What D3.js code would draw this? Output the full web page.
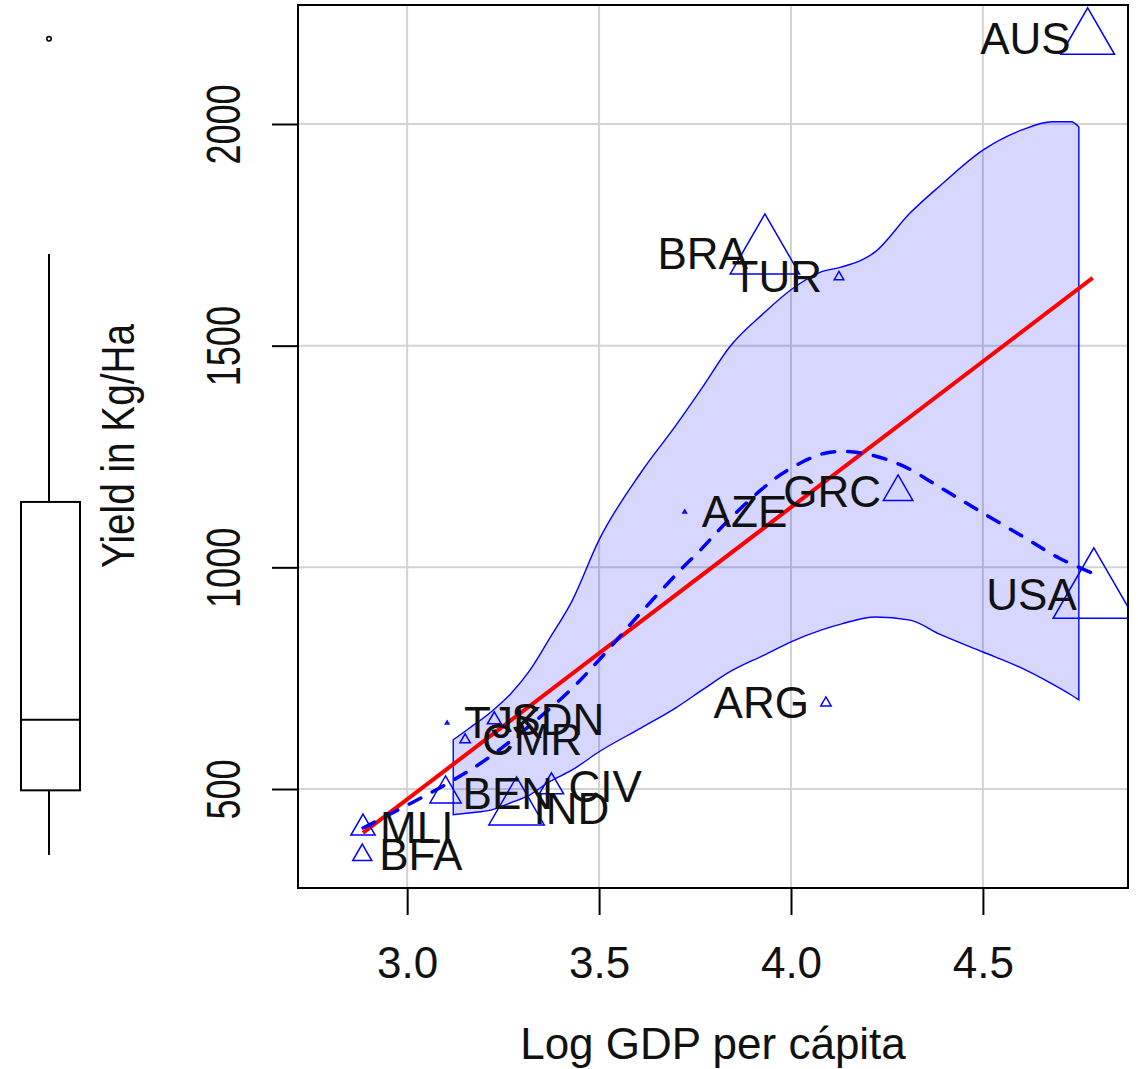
<!DOCTYPE html>
<html>
<head>
<meta charset="utf-8">
<script src="https://cdn.jsdelivr.net/npm/d3@7"></script>
<style>
  body { margin: 0; background: #fff; }
  text { font-family: "Liberation Sans", Arial, sans-serif; }
</style>
</head>
<body>
<div class="canvas"></div>
<script>
// data
const countries = ['AUS', 'USA', 'BRA', 'TUR', 'GRC', 'AZE', 'ARG', 'SDN', 'TJK', 'CMR', 'CIV', 'BEN', 'IND', 'MLI', 'BFA'];
const logGdp = [4.773, 4.789, 3.932, 4.125, 4.279, 3.723, 4.091, 3.227, 3.104, 3.151, 3.376, 3.100, 3.285, 2.885, 2.883];
const yields = [2192, 938, 1707, 1655, 1170, 1125, 694, 656, 649, 611, 505, 489, 455, 412, 351];
const markCex = [3.1, 4.7, 4.0, 0.55, 1.7, 0.2, 0.6, 0.8, 0.2, 0.6, 1.4, 1.8, 3.2, 1.4, 1.1];

// loess smooth (dashed)
const smoothX = [2.885, 3.010, 3.112, 3.203, 3.321, 3.425, 3.504, 3.608, 3.712, 3.764, 3.830, 3.921, 3.991, 4.091, 4.182, 4.286, 4.391, 4.495, 4.607, 4.698, 4.785];
const smoothY = [412, 468, 516, 565, 644, 723, 795, 897, 994, 1039, 1100, 1174, 1219, 1258, 1258, 1231, 1179, 1125, 1068, 1021, 987];

// spread band
const bandX = [3.12, 3.16, 3.22, 3.27, 3.32, 3.37, 3.43, 3.50, 3.61, 3.70, 3.77, 3.84, 3.93, 4.00, 4.08, 4.13, 4.22, 4.31, 4.39, 4.50, 4.60, 4.68, 4.73, 4.75];
const bandUpper = [611, 636, 675, 715, 768, 838, 925, 1062, 1215, 1320, 1407, 1497, 1574, 1626, 1667, 1677, 1712, 1799, 1862, 1941, 1986, 2005, 2005, 1993];
const bandLower = [442, 446, 453, 469, 487, 516, 543, 584, 638, 683, 724, 764, 802, 832, 859, 872, 888, 881, 848, 809, 773, 737, 712, 701];

// linear fit
const fitX = [2.885, 4.786];
const fitY = [401, 1653];

const xTicks = [3.0, 3.5, 4.0, 4.5];
const yTicks = [500, 1000, 1500, 2000];

const svg = d3.select('.canvas')
	.append('svg')
	.attr('width', 1138)
	.attr('height', 1069);

// plot region
const plot = { left: 298, top: 5, right: 1128, bottom: 888 };

const x = d3.scaleLinear()
	.domain([2.7156, 4.878])
	.range([plot.left, plot.right]);

const y = d3.scaleLinear()
	.domain([276.7, 2268.4])
	.range([plot.bottom, plot.top]);

const radius = d3.scaleLinear().domain([0, 1]).range([0, 10]);

const points = countries.map((c, i) => ({ name: c, x: logGdp[i], y: yields[i], cex: markCex[i] }));

svg.append('clipPath').attr('id', 'clip')
	.append('rect')
	.attr('x', plot.left).attr('y', plot.top)
	.attr('width', plot.right - plot.left).attr('height', plot.bottom - plot.top);

const graph = svg.append('g').attr('clip-path', 'url(#clip)');

// grid
graph.selectAll('.gx').data(xTicks).enter().append('line')
	.attr('x1', d => x(d)).attr('x2', d => x(d))
	.attr('y1', plot.top).attr('y2', plot.bottom)
	.attr('stroke', '#d3d3d3').attr('stroke-width', 2);
graph.selectAll('.gy').data(yTicks).enter().append('line')
	.attr('y1', d => y(d)).attr('y2', d => y(d))
	.attr('x1', plot.left).attr('x2', plot.right)
	.attr('stroke', '#d3d3d3').attr('stroke-width', 2);

// band
const band = bandX.map((v, i) => ({ x: v, hi: bandUpper[i], lo: bandLower[i] }));
const area = d3.area()
	.x(d => x(d.x))
	.y0(d => y(d.lo))
	.y1(d => y(d.hi))
	.curve(d3.curveMonotoneX);
graph.append('path')
	.datum(band)
	.attr('d', area)
	.attr('fill', 'rgba(0, 0, 255, 0.16)')
	.attr('stroke', '#0000ff')
	.attr('stroke-width', 1.4);

// fit line
const line = d3.line().x(d => x(d[0])).y(d => y(d[1]));
graph.append('path')
	.datum(fitX.map((v, i) => [v, fitY[i]]))
	.attr('d', line)
	.attr('fill', 'none')
	.attr('stroke', '#ff0000')
	.attr('stroke-width', 4);

// smooth
graph.append('path')
	.datum(smoothX.map((v, i) => [v, smoothY[i]]))
	.attr('d', line.curve(d3.curveCatmullRom))
	.attr('fill', 'none')
	.attr('stroke', '#0000ff')
	.attr('stroke-width', 3.5)
	.attr('stroke-dasharray', '13,13')
	.attr('stroke-linecap', 'round');

// triangles
graph.selectAll('.pt').data(points).enter().append('path')
	.attr('d', d => {
		const r = radius(d.cex);
		return d3.symbol(d3.symbolTriangle, 3 * Math.sqrt(3) / 4 * r * r)();
	})
	.attr('transform', d => `translate(${x(d.x)}, ${y(d.y)})`)
	.attr('fill', 'none')
	.attr('stroke', '#0000ff')
	.attr('stroke-width', 1.5);

// point labels, left or right of the point depending on side
const xMid = (d3.min(logGdp) + d3.max(logGdp)) / 2;
svg.selectAll('.lab').data(points).enter().append('text')
	.attr('x', d => d.x > xMid ? x(d.x) - 17 : x(d.x) + 17)
	.attr('y', d => y(d.y) + 15)
	.attr('text-anchor', d => d.x > xMid ? 'end' : 'start')
	.attr('font-size', 44)
	.attr('fill', '#111')
	.text(d => d.name);

// frame
svg.append('rect')
	.attr('x', plot.left).attr('y', plot.top)
	.attr('width', plot.right - plot.left).attr('height', plot.bottom - plot.top)
	.attr('fill', 'none').attr('stroke', '#000').attr('stroke-width', 2);

// axes
const xAxisGroup = svg.append('g').attr('transform', `translate(0, ${plot.bottom})`);
const yAxisGroup = svg.append('g').attr('transform', `translate(${plot.left}, 0)`);

xAxisGroup.call(d3.axisBottom(x).tickValues(xTicks).tickSize(27).tickFormat(d3.format('.1f')));
yAxisGroup.call(d3.axisLeft(y).tickValues(yTicks).tickSize(26).tickFormat(d3.format('d')));

svg.selectAll('.domain').remove();
svg.selectAll('.tick line').attr('stroke', '#000').attr('stroke-width', 2);
svg.selectAll('.tick text').attr('font-size', 44).attr('fill', '#111')
	.attr('font-family', '"Liberation Sans", Arial, sans-serif');

xAxisGroup.selectAll('text').attr('y', 90).attr('dy', null);
// vertical text in the reference is narrower along its length
yAxisGroup.selectAll('text')
	.attr('x', null).attr('dy', null)
	.attr('text-anchor', 'middle')
	.attr('transform', 'translate(-58, 0) rotate(-90) scale(0.82, 1.1)');

// titles
svg.append('text')
	.attr('x', 713).attr('y', 1059)
	.attr('text-anchor', 'middle')
	.attr('font-size', 44)
	.attr('fill', '#111')
	.text('Log GDP per cápita');

svg.append('text')
	.attr('transform', 'translate(134, 446) rotate(-90) scale(0.88, 1.05)')
	.attr('text-anchor', 'middle')
	.attr('font-size', 44)
	.attr('fill', '#111')
	.text('Yield in Kg/Ha');

// marginal boxplot (Tukey hinges)
const sorted = yields.slice().sort((a, b) => a - b);
const n = sorted.length;
const med = d3.median(sorted);
const half = Math.floor((n + 1) / 2);
const q1 = d3.median(sorted.slice(0, half));
const q3 = d3.median(sorted.slice(n - half));
const iqr = q3 - q1;
const inside = sorted.filter(v => v >= q1 - 1.5 * iqr && v <= q3 + 1.5 * iqr);
const whiskLo = d3.min(inside), whiskHi = d3.max(inside);
const outliers = sorted.filter(v => v < whiskLo || v > whiskHi);

const bx = { left: 21, right: 80, mid: 49 };
const box = svg.append('g').attr('stroke', '#000').attr('stroke-width', 2).attr('fill', 'none');
box.append('rect')
	.attr('x', bx.left).attr('width', bx.right - bx.left)
	.attr('y', y(q3)).attr('height', y(q1) - y(q3));
box.append('line').attr('x1', bx.left).attr('x2', bx.right).attr('y1', y(med)).attr('y2', y(med));
box.append('line').attr('x1', bx.mid).attr('x2', bx.mid).attr('y1', y(q3)).attr('y2', y(whiskHi));
box.append('line').attr('x1', bx.mid).attr('x2', bx.mid).attr('y1', y(q1)).attr('y2', y(whiskLo));
box.selectAll('circle').data(outliers).enter().append('circle')
	.attr('cx', bx.mid).attr('cy', d => y(d)).attr('r', 2.2).attr('stroke-width', 1.6);
</script>
</body>
</html>
